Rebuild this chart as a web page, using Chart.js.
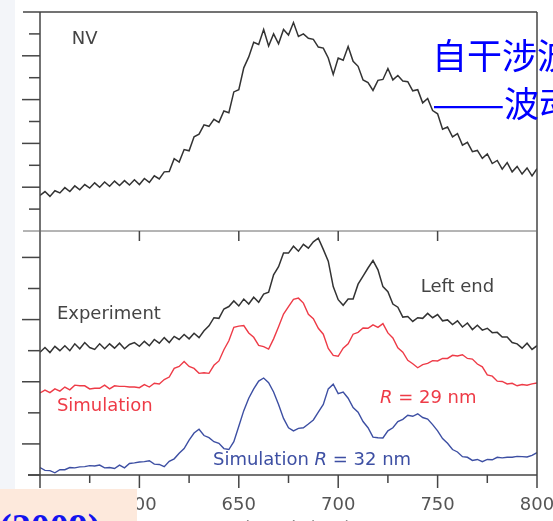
<!DOCTYPE html>
<html>
<head>
<meta charset="utf-8">
<script src="https://cdn.jsdelivr.net/npm/chart.js@4.4.1/dist/chart.umd.min.js"></script>
<style>
  html, body { margin: 0; padding: 0; background: #fff; }
  #wrap { position: relative; width: 553px; height: 521px; overflow: hidden; }
  #strip { position: absolute; left: 0; top: 0; width: 15px; height: 521px; background: #f3f5f9; }
  #spectra { position: absolute; left: 0; top: 0; }
  #note { position: absolute; left: 432px; top: 30px; font-family: "Noto Sans CJK SC"; font-size: 35px;
          line-height: 48px; color: #0000ff; white-space: nowrap; }
  #note .dash { display: inline-block; width: 72px; transform: scaleX(1.24); transform-origin: left center; }
  #year { position: absolute; left: 0; top: 489px; width: 137px; height: 32px; background: #fde9dc; overflow: hidden; }
  #year span { position: absolute; left: -1px; top: 19px; font-family: "Liberation Serif"; font-weight: bold;
               font-size: 38px; line-height: 38px; color: #1414ee; white-space: nowrap; }
</style>
</head>
<body>
<div id="wrap">
  <div id="strip"></div>
  <canvas id="spectra" width="553" height="521"></canvas>
  <div id="note">自干涉波<br><span class="dash">——</span>波动</div>
  <div id="year"><span>(2009)</span></div>
</div>
<script>
// wavelength grid (nm)
const wavelength = [
  550,552.5,555,557.5,560,562.5,565,567.5,570,572.5,
  575,577.5,580,582.5,585,587.5,590,592.5,595,597.5,
  600,602.5,605,607.5,610,612.5,615,617.5,620,622.5,
  625,627.5,630,632.5,635,637.5,640,642.5,645,647.5,
  650,652.5,655,657.5,660,662.5,665,667.5,670,672.5,
  675,677.5,680,682.5,685,687.5,690,692.5,695,697.5,
  700,702.5,705,707.5,710,712.5,715,717.5,720,722.5,
  725,727.5,730,732.5,735,737.5,740,742.5,745,747.5,
  750,752.5,755,757.5,760,762.5,765,767.5,770,772.5,
  775,777.5,780,782.5,785,787.5,790,792.5,795,797.5,
  800
];

// top panel: NV emission
const nvSpectrum = [
  1.62,1.80,1.58,1.84,1.74,1.98,1.80,2.06,1.88,2.12,
  1.96,2.20,2.00,2.24,2.04,2.28,2.08,2.30,2.10,2.34,
  2.12,2.40,2.22,2.52,2.38,2.70,2.72,3.30,3.15,3.72,
  3.66,4.30,4.42,4.85,4.78,5.10,4.96,5.48,5.40,6.35,
  6.45,7.45,7.95,8.62,8.52,9.20,8.45,9.00,8.55,9.20,
  8.95,9.52,8.88,9.00,8.80,8.75,8.40,8.35,7.90,7.15,
  7.90,7.80,8.42,7.75,7.52,6.90,6.78,6.42,6.88,6.92,
  7.42,6.90,7.10,6.85,6.82,6.40,6.45,5.85,6.05,5.50,
  5.35,4.65,4.75,4.30,4.45,3.92,4.05,3.62,3.68,3.32,
  3.52,3.08,3.22,2.82,3.12,2.70,2.95,2.60,2.88,2.52,
  2.85
];

// bottom panel: left end experiment and simulations
const experiment = [
  3.95,4.10,3.94,4.14,4.00,4.16,4.00,4.22,4.06,4.26,
  4.10,4.04,4.22,4.06,4.22,4.08,4.24,4.06,4.20,4.26,
  4.14,4.30,4.16,4.36,4.24,4.42,4.26,4.46,4.36,4.52,
  4.38,4.56,4.42,4.64,4.80,5.06,5.04,5.34,5.42,5.60,
  5.44,5.66,5.50,5.72,5.56,5.82,5.88,6.44,6.70,7.14,
  7.14,7.36,7.20,7.42,7.30,7.50,7.62,7.26,6.88,6.06,
  5.64,5.46,5.66,5.66,6.14,6.40,6.66,6.90,6.60,6.06,
  5.90,5.50,5.40,5.08,5.10,4.94,5.06,5.04,5.20,5.06,
  5.16,4.96,4.99,4.84,4.96,4.76,4.89,4.68,4.82,4.66,
  4.72,4.58,4.59,4.44,4.44,4.26,4.22,4.08,4.24,4.04,
  4.16
];

const simR29 = [
  2.64,2.73,2.65,2.77,2.70,2.83,2.74,2.89,2.87,2.87,
  2.77,2.79,2.79,2.89,2.77,2.87,2.85,2.85,2.83,2.83,
  2.81,2.91,2.83,2.95,2.93,3.07,3.15,3.43,3.49,3.65,
  3.49,3.43,3.27,3.29,3.27,3.53,3.67,4.03,4.32,4.75,
  4.79,4.81,4.57,4.43,4.17,4.13,4.05,4.38,4.77,5.18,
  5.42,5.65,5.69,5.53,5.17,5.03,4.72,4.53,4.07,3.85,
  3.82,4.08,4.22,4.53,4.59,4.73,4.72,4.83,4.75,4.87,
  4.57,4.41,4.09,3.95,3.69,3.58,3.45,3.55,3.59,3.68,
  3.67,3.75,3.75,3.85,3.83,3.87,3.75,3.73,3.57,3.48,
  3.22,3.18,3.02,3.01,2.93,2.95,2.87,2.91,2.89,2.93,
  2.96
];

const simR32 = [
  0.24,0.15,0.14,0.07,0.17,0.17,0.24,0.23,0.26,0.27,
  0.30,0.29,0.32,0.23,0.24,0.21,0.32,0.23,0.37,0.39,
  0.42,0.43,0.46,0.35,0.34,0.27,0.44,0.52,0.70,0.85,
  1.12,1.35,1.47,1.27,1.20,1.07,1.02,0.85,0.82,1.07,
  1.57,2.07,2.47,2.77,3.02,3.12,2.97,2.67,2.27,1.82,
  1.52,1.42,1.50,1.52,1.64,1.77,2.02,2.27,2.77,2.92,
  2.62,2.67,2.47,2.17,2.02,1.72,1.52,1.22,1.20,1.19,
  1.42,1.52,1.72,1.79,1.92,1.89,1.97,1.85,1.80,1.62,
  1.42,1.17,1.02,0.82,0.74,0.59,0.57,0.47,0.50,0.43,
  0.50,0.49,0.57,0.55,0.57,0.57,0.60,0.59,0.58,0.63,
  0.72
];

const xTicks = [550, 575, 600, 625, 650, 675, 700, 725, 750, 775, 800];
const xLabelled = [550, 600, 650, 700, 750, 800];
const topTicks = [1, 2, 3, 4, 5, 6, 7, 8, 9];
const bottomTicks = [0, 1, 2, 3, 4, 5, 6, 7];

// text written inside the panels: [x nm, y value]
const labels = [
  { axis: 'yTop', at: [566, 8.75], color: '#444', parts: [['NV', false]] },
  { axis: 'yBot', at: [558.5, 5.16], color: '#444', parts: [['Experiment', false]] },
  { axis: 'yBot', at: [741.5, 6.03], color: '#444', parts: [['Left end', false]] },
  { axis: 'yBot', at: [558.5, 2.2], color: '#ee3b47', parts: [['Simulation', false]] },
  { axis: 'yBot', at: [721, 2.46], color: '#ee3b47', parts: [['R', true], [' = 29 nm', false]] },
  { axis: 'yBot', at: [637, 0.46], color: '#3d4fa3', parts: [['Simulation ', false], ['R', true], [' = 32 nm', false]] }
];

const pts = (arr) => wavelength.map((w, i) => ({ x: w, y: arr[i] }));

const FONT = '"DejaVu Sans", sans-serif';

const framePlugin = {
  id: 'frame',
  afterDatasetsDraw(chart) {
    const { ctx, chartArea: a, scales } = chart;
    const sx = scales.x, yt = scales.yTop, yb = scales.yBot;
    const seg = (x1, y1, x2, y2) => { ctx.beginPath(); ctx.moveTo(x1, y1); ctx.lineTo(x2, y2); ctx.stroke(); };
    ctx.save();
    ctx.strokeStyle = '#454545';
    ctx.lineWidth = 1.5;
    seg(a.left, a.top, a.left, a.bottom);
    seg(a.right, a.top, a.right, a.bottom);
    seg(a.left - 17, a.top, a.right, a.top);
    seg(a.left - 12, a.bottom, a.right, a.bottom);
    // y ticks, long and short
    topTicks.forEach(v => {
      const y = yt.getPixelForValue(v);
      seg(a.left - (v % 2 === 0 ? 18 : 11), y, a.left, y);
    });
    bottomTicks.forEach(v => {
      const y = yb.getPixelForValue(v);
      seg(a.left - (v % 2 === 1 ? 18 : 12), y, a.left, y);
    });
    // x ticks
    xTicks.forEach(v => {
      const x = sx.getPixelForValue(v);
      const major = xLabelled.includes(v);
      seg(x, a.bottom, x, a.bottom + (major ? 13 : 8));
    });
    // panel separator
    const ySep = yt.bottom;
    ctx.lineWidth = 1;
    ctx.strokeStyle = '#6a6a6a';
    seg(a.left - 17, ySep, a.right, ySep);
    ctx.lineWidth = 1.5;
    ctx.strokeStyle = '#454545';
    xLabelled.slice(1, -1).forEach(v => {
      const x = sx.getPixelForValue(v);
      seg(x, ySep, x, ySep + 10);
    });
    // labels
    ctx.textBaseline = 'middle';
    labels.forEach(l => {
      let x = sx.getPixelForValue(l.at[0]);
      const y = scales[l.axis].getPixelForValue(l.at[1]);
      ctx.fillStyle = l.color;
      l.parts.forEach(([t, it]) => {
        ctx.font = (it ? 'italic ' : '') + '18px ' + FONT;
        ctx.fillText(t, x, y);
        x += ctx.measureText(t).width;
      });
    });
    // axis title, mostly cut off by the bottom edge
    ctx.font = '18px ' + FONT;
    ctx.fillStyle = '#8a8a8a';
    ctx.textAlign = 'center';
    ctx.textBaseline = 'alphabetic';
    ctx.fillText('Wavelength (nm)', (sx.getPixelForValue(650) + sx.getPixelForValue(675)) / 2 + 10, a.bottom + 59);
    ctx.restore();
  }
};

new Chart(document.getElementById('spectra'), {
  type: 'line',
  data: {
    datasets: [
      { label: 'NV', data: pts(nvSpectrum), yAxisID: 'yTop', borderColor: '#333', borderWidth: 1.5 },
      { label: 'Experiment', data: pts(experiment), yAxisID: 'yBot', borderColor: '#333', borderWidth: 1.5 },
      { label: 'Simulation R = 29 nm', data: pts(simR29), yAxisID: 'yBot', borderColor: '#ee3b47', borderWidth: 1.4 },
      { label: 'Simulation R = 32 nm', data: pts(simR32), yAxisID: 'yBot', borderColor: '#3d4fa3', borderWidth: 1.4 }
    ]
  },
  options: {
    responsive: false,
    animation: false,
    layout: { padding: { left: 40, top: 12, right: 16, bottom: 0 } },
    elements: { point: { radius: 0 }, line: { tension: 0 } },
    plugins: { legend: { display: false }, tooltip: { enabled: false } },
    scales: {
      x: {
        type: 'linear', min: 550, max: 800,
        grid: { display: false }, border: { display: false },
        afterBuildTicks: s => { s.ticks = xLabelled.map(v => ({ value: v })); },
        afterFit: s => { s.height = 46; s.paddingLeft = 0; s.paddingRight = 0; },
        ticks: { color: '#555', font: { family: FONT, size: 18 }, padding: 12, maxRotation: 0, autoSkip: false }
      },
      yBot: {
        type: 'linear', position: 'left', stack: 'panels', stackWeight: 244, weight: 1,
        min: 0, max: 7.85, display: false
      },
      yTop: {
        type: 'linear', position: 'left', stack: 'panels', stackWeight: 219, weight: 2,
        min: 0, max: 10, display: false
      }
    }
  },
  plugins: [framePlugin]
});
</script>
</body>
</html>
